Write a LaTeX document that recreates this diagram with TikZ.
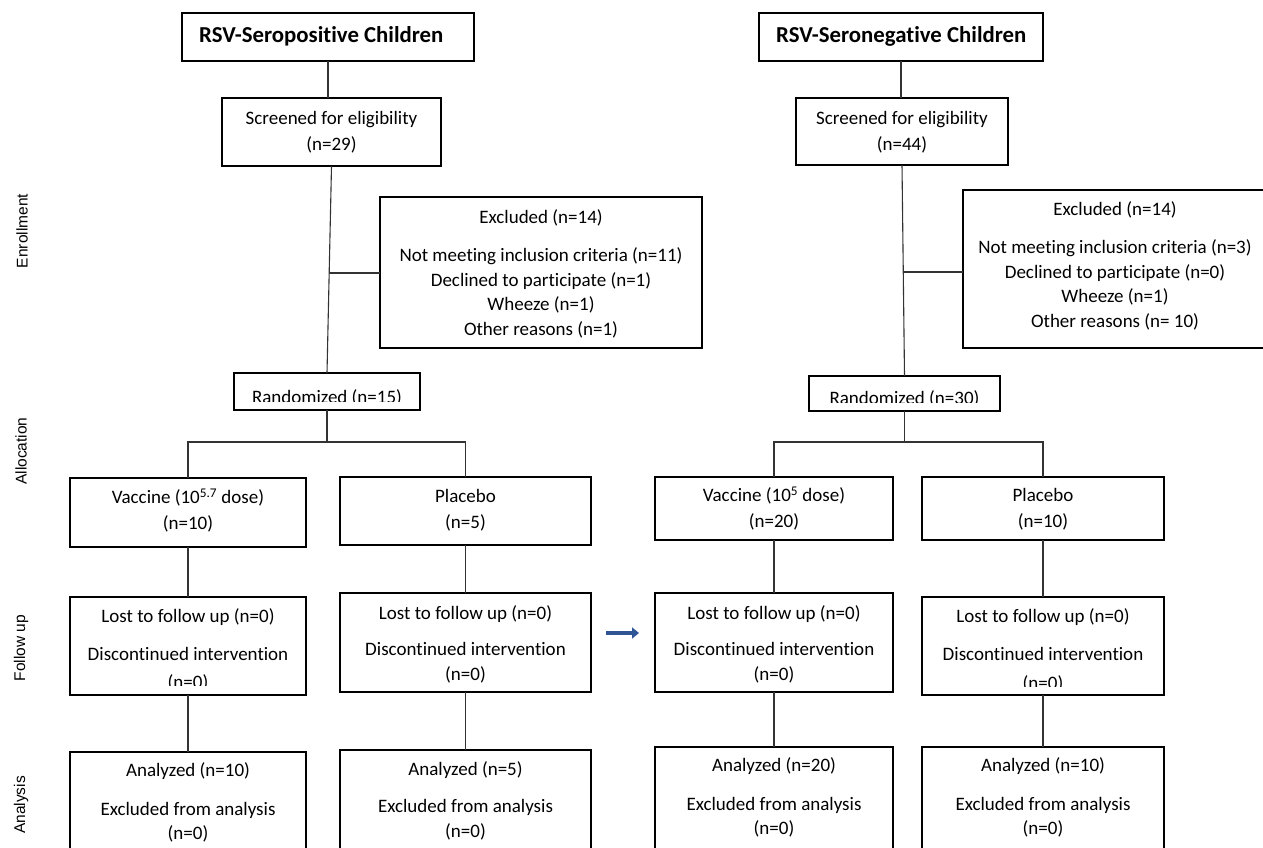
\documentclass[tikz,border=0pt]{standalone}
\usepackage{fontspec}
\setmainfont[Ligatures={NoCommon}]{Carlito}
\newfontfamily\sidefont{Liberation Sans}
\usetikzlibrary{arrows.meta,calc}
\definecolor{arrowblue}{RGB}{47,85,151}
\newcommand\mkbox[5]{\node[flowbox, minimum width={(#4)-(#2)}, minimum height={(#5)-(#3)}] (#1) at ({((#2)+(#4))/2},{((#3)+(#5))/2}) {};}
\begin{document}
\begin{tikzpicture}[x=1pt,y=-1pt,
  flowbox/.style={draw=black, line width=2pt, inner sep=0pt, outer sep=0pt, fill=white},
  txt/.style={font=\fontsize{19}{22}\selectfont, inner sep=0pt, anchor=mid},
  ctxt/.style={font=\fontsize{19}{22}\selectfont, inner sep=0pt, anchor=base},
  ttl/.style={font=\bfseries\fontsize{22.8}{26}\selectfont, inner sep=0pt, anchor=mid west},
  side/.style={font=\sidefont\fontsize{15.5}{18}\selectfont, rotate=90, inner sep=0pt},
  link/.style={draw=black!80, line width=1.1pt},
  bluearrow/.style={draw=arrowblue, line width=4pt, -{Triangle[length=7pt,width=11pt]}}]
\useasboundingbox (0,0) rectangle (1263,847);
\clip (0,0) rectangle (1263,847);
\fill[white] (0,0) rectangle (1263,847);

% side labels
\node[side] (lblEnr) at (22,231) {Enrollment};
\node[side] (lblAll) at (21,451) {Allocation};
\node[side] (lblFol) at (21,648) {Follow up};
\node[side] (lblAna) at (21,805) {Analysis};

% boxes - left
\mkbox{TL}{182}{13}{474}{61}
\mkbox{SL}{222}{98}{441}{166}
\mkbox{EL}{380}{197}{702}{348}
\mkbox{RL}{234}{373}{420}{410}
\mkbox{VL}{70}{478}{306}{547}
\mkbox{PL}{340}{477}{591}{545}
\mkbox{FLa}{70}{597}{306}{695}
\mkbox{FLb}{340}{593}{591}{692}
\mkbox{ALa}{70}{752}{306}{880}
\mkbox{ALb}{340}{750}{591}{880}
% boxes - right
\mkbox{TR}{759}{13}{1043}{61}
\mkbox{SR}{796}{98}{1008}{165}
\mkbox{ER}{963}{190}{1300}{348}
\mkbox{RR}{809}{376}{1000}{411}
\mkbox{VR}{655}{477}{893}{540}
\mkbox{PR}{922}{477}{1164}{540}
\mkbox{FRa}{655}{593}{893}{692}
\mkbox{FRb}{922}{597}{1164}{695}
\mkbox{ARa}{655}{747}{893}{880}
\mkbox{ARb}{922}{747}{1164}{880}

% titles
\node[ttl] (tTL) at (199,40) {RSV-Seropositive Children};
\node[ttl] (tTR) at (776,40) {RSV-Seronegative Children};

% screened
\node[txt] (tSL1) at (331.5,122) {Screened for eligibility};
\node[txt] (tSL2) at (331.5,148) {(n=29)};
\node[txt] (tSR1) at (902,122) {Screened for eligibility};
\node[txt] (tSR2) at (902,148) {(n=44)};

% excluded left
\node[txt] (tEL1) at (541,221) {Excluded (n=14)};
\node[txt] (tEL2) at (541,259) {Not meeting inclusion criteria (n=11)};
\node[txt] (tEL3) at (541,284) {Declined to participate (n=1)};
\node[txt] (tEL4) at (541,308) {Wheeze (n=1)};
\node[txt] (tEL5) at (541,333) {Other reasons (n=1)};
% excluded right
\node[txt] (tER1) at (1115,213) {Excluded (n=14)};
\node[txt] (tER2) at (1115,251) {Not meeting inclusion criteria (n=3)};
\node[txt] (tER3) at (1115,276) {Declined to participate (n=0)};
\node[txt] (tER4) at (1115,300) {Wheeze (n=1)};
\node[txt] (tER5) at (1115,325) {Other reasons (n= 10)};

% randomized (text cut off at the bottom)
\begin{scope}
\clip (235,374) rectangle (419,401);
\node[ctxt] (tRL) at (327,403) {Randomized (n=15)};
\end{scope}
\begin{scope}
\clip (810,377) rectangle (999,402);
\node[ctxt] (tRR) at (904.5,404) {Randomized (n=30)};
\end{scope}

% allocation
\node[txt] (tVL1) at (188,501) {Vaccine (10\textsuperscript{5.7} dose)};
\node[txt] (tVL2) at (188,527) {(n=10)};
\node[txt] (tPL1) at (465.5,500) {Placebo};
\node[txt] (tPL2) at (465.5,526) {(n=5)};
\node[txt] (tVR1) at (774,499) {Vaccine (10\textsuperscript{5} dose)};
\node[txt] (tVR2) at (774,525) {(n=20)};
\node[txt] (tPR1) at (1043,499) {Placebo};
\node[txt] (tPR2) at (1043,525) {(n=10)};

% follow up
\node[txt] (tFLa1) at (188,620) {Lost to follow up (n=0)};
\node[txt] (tFLa2) at (188,658) {Discontinued intervention};
\begin{scope}
\clip (71,660) rectangle (305,685);
\node[ctxt] (tFLa3) at (188,688) {(n=0)};
\end{scope}
\node[txt] (tFLb1) at (465.5,617) {Lost to follow up (n=0)};
\node[txt] (tFLb2) at (465.5,653) {Discontinued intervention};
\node[txt] (tFLb3) at (465.5,678) {(n=0)};
\node[txt] (tFRa1) at (774,617) {Lost to follow up (n=0)};
\node[txt] (tFRa2) at (774,653) {Discontinued intervention};
\node[txt] (tFRa3) at (774,678) {(n=0)};
\node[txt] (tFRb1) at (1043,620) {Lost to follow up (n=0)};
\node[txt] (tFRb2) at (1043,658) {Discontinued intervention};
\begin{scope}
\clip (923,660) rectangle (1163,686);
\node[ctxt] (tFRb3) at (1043,689) {(n=0)};
\end{scope}

% analysis
\node[txt] (tALa1) at (188,774) {Analyzed (n=10)};
\node[txt] (tALa2) at (188,813) {Excluded from analysis};
\node[txt] (tALa3) at (188,837) {(n=0)};
\node[txt] (tALb1) at (465.5,773) {Analyzed (n=5)};
\node[txt] (tALb2) at (465.5,810) {Excluded from analysis};
\node[txt] (tALb3) at (465.5,835) {(n=0)};
\node[txt] (tARa1) at (774,769) {Analyzed (n=20)};
\node[txt] (tARa2) at (774,808) {Excluded from analysis};
\node[txt] (tARa3) at (774,832) {(n=0)};
\node[txt] (tARb1) at (1043,769) {Analyzed (n=10)};
\node[txt] (tARb2) at (1043,808) {Excluded from analysis};
\node[txt] (tARb3) at (1043,832) {(n=0)};

% connectors - left
\draw[link] (TL.south) -- (TL.south |- SL.north);
\draw[link] (SL.south) -- (RL.north);
\coordinate (jL) at ($(SL.south)!0.517!(RL.north)$);
\draw[link] (jL) -- (jL -| EL.west);
\coordinate (bL) at (RL.south |- 0,442);
\draw[link] (RL.south) -- (bL);
\draw[link] (VL.north) -- (VL.north |- bL) -- (PL.north |- bL) -- (PL.north);
\draw[link] (VL.south) -- (FLa.north);
\draw[link] (FLa.south) -- (ALa.north);
\draw[link] (PL.south) -- (FLb.north);
\draw[link] (FLb.south) -- (ALb.north);
% connectors - right
\draw[link] (TR.south) -- (TR.south |- SR.north);
\draw[link] (SR.south) -- (RR.north);
\coordinate (jR) at ($(SR.south)!0.507!(RR.north)$);
\draw[link] (jR) -- (jR -| ER.west);
\coordinate (bR) at (RR.south |- 0,442);
\draw[link] (RR.south) -- (bR);
\draw[link] (VR.north) -- (VR.north |- bR) -- (PR.north |- bR) -- (PR.north);
\draw[link] (VR.south) -- (FRa.north);
\draw[link] (FRa.south) -- (ARa.north);
\draw[link] (PR.south) -- (FRb.north);
\draw[link] (FRb.south) -- (ARb.north);

% blue arrow
\coordinate (arrS) at (606,633);
\coordinate (arrE) at (639,633);
\draw[bluearrow] (arrS) -- (arrE);
\end{tikzpicture}
\end{document}
